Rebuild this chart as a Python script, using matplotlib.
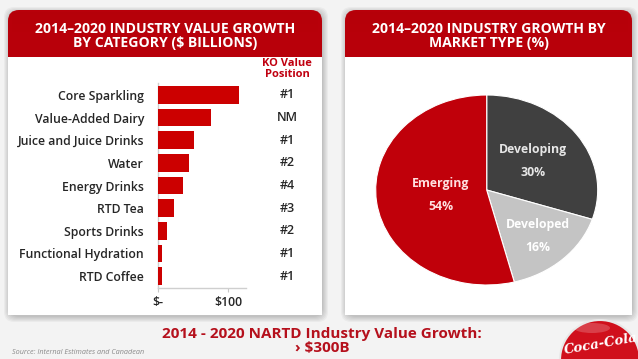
import matplotlib
matplotlib.use("Agg")
import matplotlib.pyplot as plt
from matplotlib.patches import FancyBboxPatch, Rectangle, Circle, Ellipse
import numpy as np

# ---------------- data ----------------
categories = ["Core Sparkling", "Value-Added Dairy", "Juice and Juice Drinks", "Water",
              "Energy Drinks", "RTD Tea", "Sports Drinks", "Functional Hydration", "RTD Coffee"]
values = [116, 75, 51, 44, 35, 23, 13, 6, 6]
ko_position = ["#1", "NM", "#1", "#2", "#4", "#3", "#2", "#1", "#1"]
x_ticks = [0, 100]
x_ticklabels = ["$-", "$100"]

market_types = ["Developing", "Developed", "Emerging"]
market_share = [30, 16, 54]

left_title = "2014\u20132020 INDUSTRY VALUE GROWTH\nBY CATEGORY ($ BILLIONS)"
right_title = "2014\u20132020 INDUSTRY GROWTH BY\nMARKET TYPE (%)"
bottom_title = "2014 - 2020 NARTD Industry Value Growth:\n\u203a $300B"
source_text = "Source: Internal Estimates and Canadean"

# ---------------- layout helpers ----------------
W, H = 638, 359
FONT = ["Open Sans", "DejaVu Sans"]
fig = plt.figure(figsize=(W / 100, H / 100), dpi=100)
fig.patch.set_facecolor("#f3f3f3")


def fx(x):
    return x / W


def fy(y):
    return 1 - y / H


def axes_px(x0, y0, w, h):
    return fig.add_axes([fx(x0), fy(y0 + h), w / W, h / H])


bg = fig.add_axes([0, 0, 1, 1])
bg.set_xlim(0, W)
bg.set_ylim(H, 0)
bg.axis("off")

# panels with soft shadow
for (x0, x1) in [(8, 322), (345, 632)]:
    y0, y1 = 10, 315
    for k in range(6, 0, -1):
        bg.add_patch(FancyBboxPatch((x0 - k + 2, y0 - k + 3), (x1 - x0) + 2 * k - 2, (y1 - y0) + 2 * k - 2,
                                    boxstyle="round,pad=0,rounding_size=10",
                                    facecolor="#000000", alpha=0.035, edgecolor="none"))
    bg.add_patch(Rectangle((x0, y0 + 20), x1 - x0, y1 - y0 - 20, facecolor="white", edgecolor="none"))
    bg.add_patch(FancyBboxPatch((x0, y0), x1 - x0, 47, boxstyle="round,pad=0,rounding_size=11",
                                facecolor="#b8000a", edgecolor="none"))
    bg.add_patch(Rectangle((x0, y0 + 25), x1 - x0, 22, facecolor="#b8000a", edgecolor="none"))
    for i in range(10):
        bg.add_patch(Rectangle((x0 + 4, y0 + 2 + i * 2), x1 - x0 - 8, 2, facecolor="#700000",
                               alpha=0.03 * (10 - i) / 10, edgecolor="none"))

bg.text((8 + 322) / 2, 36, left_title, ha="center", va="center", color="white", fontsize=10.1,
        fontweight="bold", family=FONT, linespacing=0.98)
bg.text((345 + 632) / 2, 36, right_title, ha="center", va="center", color="white", fontsize=10.1,
        fontweight="bold", family=FONT, linespacing=0.98)

# KO value header
bg.text(287, 69, "KO Value\nPosition", ha="center", va="center", color="#c00010", fontsize=8,
        fontweight="bold", family=FONT, linespacing=0.92)

# ---------------- bar chart ----------------
ax = axes_px(158, 83, 87.5, 205)
ypos = np.arange(len(categories))
ax.barh(ypos, values, height=0.78, color="#cc0000", zorder=3)
ax.set_xlim(0, 125)
ax.set_ylim(len(categories) - 0.47, -0.53)
ax.set_yticks(ypos)
ax.set_yticklabels(categories, family=FONT, fontsize=8.8, fontweight="semibold", color="#262626")
ax.tick_params(axis="y", length=0, pad=10)
ax.set_xticks(x_ticks)
ax.set_xticklabels(x_ticklabels, family=FONT, fontsize=8.8, fontweight="semibold", color="#262626")
ax.tick_params(axis="x", length=3, color="#c8c8c8", pad=3)
for s in ["top", "right"]:
    ax.spines[s].set_visible(False)
for s in ["left", "bottom"]:
    ax.spines[s].set_color("#cfcfcf")
    ax.spines[s].set_linewidth(1.0)
ax.patch.set_alpha(0)

for yv, pos in zip(ypos, ko_position):
    ax.text(1.0 + (287 - 245.5) / 87.5, yv, pos, transform=ax.get_yaxis_transform(),
            ha="center", va="center", fontsize=9, fontweight="semibold", color="#262626", family=FONT)

# ---------------- pie chart ----------------
pax = axes_px(375.7, 95, 222, 190)
colors = ["#404040", "#c4c4c4", "#c0000a"]
wedges, _ = pax.pie(market_share, colors=colors, startangle=90, counterclock=False,
                    wedgeprops=dict(edgecolor="white", linewidth=0.8))
pax.set_aspect("auto")
pax.set_xlim(-1, 1)
pax.set_ylim(-1, 1)
label_r = [0.52, 0.67, 0.42]
label_colors = ["#e6e6e6", "#ffffff", "#ffe0e0"]
for w, name, pct, r, c in zip(wedges, market_types, market_share, label_r, label_colors):
    ang = np.deg2rad((w.theta1 + w.theta2) / 2)
    pax.text(r * np.cos(ang), r * np.sin(ang), f"{name}\n{pct}%", ha="center", va="center",
             fontsize=8.8, fontweight="bold", color=c, family=FONT, linespacing=2.0)

# ---------------- footer ----------------
bg.text(322, 341, bottom_title, ha="center", va="center", color="#b5101c", fontsize=11,
        fontweight="bold", family=FONT, linespacing=0.92)
bg.text(12, 352, source_text, ha="left", va="center", color="#8a8a8a", fontsize=5.2,
        style="italic", family=FONT)

# Coca-Cola logo approximation
bg.add_patch(Circle((600, 360), 40, facecolor="#d0101c", edgecolor="#e8e8e8", linewidth=1.5))
bg.add_patch(Ellipse((592, 328), 36, 10, facecolor="white", alpha=0.2, edgecolor="none"))
bg.text(601, 344, "Coca-Cola", ha="center", va="center", color="white", fontsize=9.5,
        style="italic", fontweight="bold", family=["DejaVu Serif"], rotation=10)

fig.savefig("out.png", dpi=100, facecolor=fig.get_facecolor())
